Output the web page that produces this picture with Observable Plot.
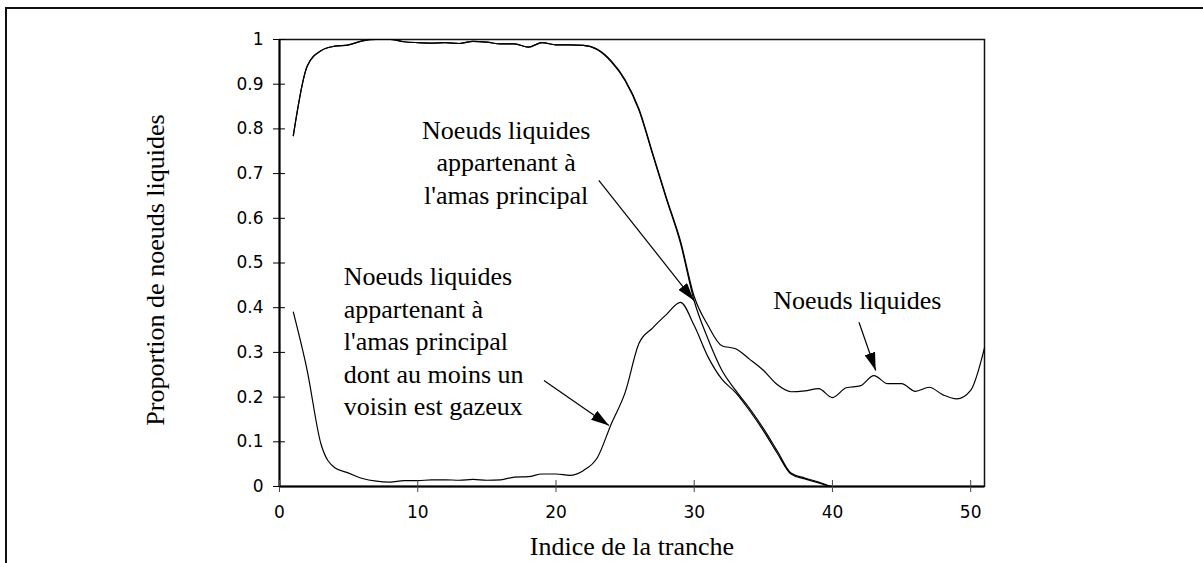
<!DOCTYPE html>
<html><head><meta charset="utf-8">
<script src="https://cdn.jsdelivr.net/npm/d3@7"></script>
<script src="https://cdn.jsdelivr.net/npm/@observablehq/plot@0.6"></script>
<style>
html,body{margin:0;padding:0;background:#fff;overflow:hidden;}
#wrap{position:relative;width:1203px;height:563px;overflow:hidden;}
#cadre{position:absolute;left:5px;top:7px;width:1400px;height:800px;border:2px solid #111;box-sizing:border-box;pointer-events:none;}
</style></head><body>
<div id="wrap"><div id="chart"></div><div id="cadre"></div></div>
<script>
// ---- data ----
const tranche = [1,2,3,4,5,6,7,8,9,10,11,12,13,14,15,16,17,18,19,20,21,22,23,24,25,26,27,28,29,30,31,32,33,34,35,36,37,38,39,40,41,42,43,44,45,46,47,48,49,50,51];
const liquides = [0.785,0.94,0.975,0.985,0.988,0.997,1.0,1.0,0.995,0.993,0.992,0.993,0.991,0.996,0.994,0.99,0.99,0.983,0.993,0.988,0.988,0.987,0.978,0.952,0.91,0.845,0.745,0.645,0.55,0.425,0.36,0.315,0.308,0.285,0.26,0.228,0.212,0.214,0.219,0.199,0.221,0.225,0.248,0.23,0.23,0.213,0.222,0.205,0.196,0.215,0.31];
const amasPrincipal = [0.785,0.94,0.975,0.985,0.988,0.997,1.0,1.0,0.995,0.993,0.992,0.993,0.991,0.996,0.994,0.99,0.99,0.983,0.993,0.988,0.988,0.987,0.977,0.95,0.908,0.842,0.742,0.642,0.545,0.415,0.33,0.26,0.215,0.175,0.13,0.08,0.03,0.019,0.01,0,0,0,0,0,0,0,0,0,0,0,0];
const amasVoisinGazeux = [0.39,0.26,0.095,0.042,0.03,0.018,0.012,0.01,0.013,0.013,0.015,0.015,0.014,0.016,0.014,0.015,0.021,0.022,0.028,0.028,0.025,0.036,0.065,0.14,0.21,0.32,0.355,0.385,0.412,0.36,0.29,0.24,0.21,0.17,0.125,0.075,0.028,0.017,0.008,0,0,0,0,0,0,0,0,0,0,0,0];

const xTicks = [0,10,20,30,40,50];
const yTicks = [0,0.1,0.2,0.3,0.4,0.5,0.6,0.7,0.8,0.9,1];
const yTickLabels = ["0","0.1","0.2","0.3","0.4","0.5","0.6","0.7","0.8","0.9","1"];

const xTitle = "Indice de la tranche";
const yTitle = "Proportion de noeuds liquides";

const annotTextes = [
  "Noeuds liquides\nappartenant à\nl'amas principal",
  "Noeuds liquides\nappartenant à\nl'amas principal\ndont au moins un\nvoisin est gazeux",
  "Noeuds liquides"
];
const annotX = [16.4, 4.65, 41.8];
const annotY = [0.633, 0.159, 0.398];
const annotAncre = ["middle", "start", "middle"];

const flecheX1 = [23.1, 19.13, 41.92];
const flecheY1 = [0.685, 0.237, 0.3676];
const flecheX2 = [29.98, 23.83, 43.13];
const flecheY2 = [0.416, 0.1365, 0.2595];

// ---- drawing ----
const svgns = "http://www.w3.org/2000/svg";
function pointeRemplie(color) {
  const m = document.createElementNS(svgns, "marker");
  m.setAttribute("viewBox", "-18 -5.5 18 11");
  m.setAttribute("markerWidth", "18");
  m.setAttribute("markerHeight", "11");
  m.setAttribute("markerUnits", "userSpaceOnUse");
  m.setAttribute("orient", "auto");
  m.setAttribute("refX", "0");
  m.setAttribute("refY", "0");
  const p = document.createElementNS(svgns, "path");
  p.setAttribute("d", "M-18,-5.5L0,0L-18,5.5Z");
  p.setAttribute("fill", color || "black");
  p.setAttribute("stroke", "none");
  m.appendChild(p);
  return m;
}

const serif = "'Liberation Serif', 'Times New Roman', serif";
const sans = "'DejaVu Sans', sans-serif";

function annot(anchor) {
  const ids = annotTextes.map((_, i) => i).filter((i) => annotAncre[i] === anchor);
  return Plot.text(ids, {x: (i) => annotX[i], y: (i) => annotY[i], text: (i) => annotTextes[i],
    textAnchor: anchor, lineAnchor: "bottom", lineHeight: 1.25,
    fontFamily: serif, fontSize: 26, fill: "black"});
}

function build(marker) {
  const fl = flecheX1.map((_, i) => i);
  return Plot.plot({
    width: 1203,
    height: 563,
    marginLeft: 279,
    marginRight: 219,
    marginTop: 39,
    marginBottom: 77,
    style: {background: "white", color: "black", fontFamily: sans, overflow: "visible"},
    x: {domain: [0, 51]},
    y: {domain: [0, 1]},
    marks: [
      Plot.frame({stroke: "#111", strokeWidth: 1.5}),
      Plot.line(tranche, {x: tranche, y: amasVoisinGazeux, curve: "monotone-x", stroke: "black", strokeWidth: 1.2}),
      Plot.line(tranche, {x: tranche, y: amasPrincipal, curve: "monotone-x", stroke: "black", strokeWidth: 1.2}),
      Plot.line(tranche, {x: tranche, y: liquides, curve: "monotone-x", stroke: "black", strokeWidth: 1.2}),
      Plot.ruleY([0], {stroke: "black", strokeWidth: 2}),
      Plot.ruleX([0], {stroke: "black", strokeWidth: 2}),
      // crossing ticks
      Plot.axisX(xTicks, {tickSize: 12, dy: -6, fill: "none", stroke: "#444", label: null}),
      Plot.axisX(xTicks, {tickSize: 0, tickPadding: 19, fontSize: 17, fontFamily: sans, label: null}),
      Plot.axisY(yTicks, {tickSize: 12, dx: 6, fill: "none", stroke: "black", label: null}),
      Plot.axisY(yTicks, {tickSize: 0, tickPadding: 16, fontSize: 17, fontFamily: sans, label: null,
        tickFormat: (d) => yTickLabels[yTicks.indexOf(d)]}),
      // titles
      Plot.text([xTitle], {frameAnchor: "bottom", dy: 68, text: (d) => d, lineAnchor: "bottom",
        fontFamily: serif, fontSize: 26, fill: "black"}),
      Plot.text([yTitle], {frameAnchor: "left", dx: -116, dy: 7, rotate: -90, text: (d) => d,
        textAnchor: "middle", lineAnchor: "bottom",
        fontFamily: serif, fontSize: 26, fill: "black"}),
      // annotations
      annot("middle"),
      annot("start"),
      Plot.link(fl, {x1: (i) => flecheX1[i], y1: (i) => flecheY1[i], x2: (i) => flecheX2[i], y2: (i) => flecheY2[i],
        stroke: "black", strokeWidth: 1.2, markerEnd: marker})
    ]
  });
}

let chart;
try { chart = build(pointeRemplie); } catch (e) { chart = build("arrow"); }
document.getElementById("chart").appendChild(chart);
</script>
</body></html>
